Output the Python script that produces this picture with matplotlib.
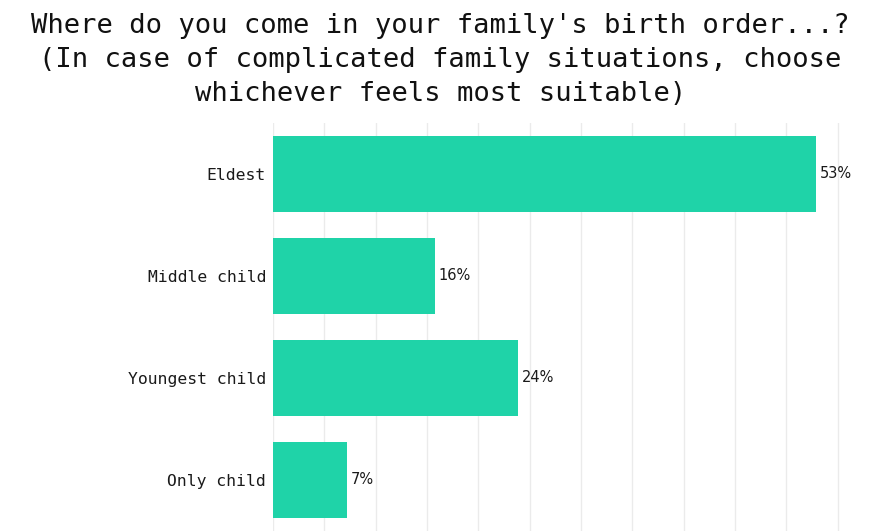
import matplotlib
matplotlib.use("Agg")
import matplotlib.pyplot as plt

categories = ["Eldest", "Middle child", "Youngest child", "Only child"]
values = [52.9, 15.8, 23.9, 7.2]
title = ("Where do you come in your family's birth order...?\n"
         "(In case of complicated family situations, choose\n"
         "whichever feels most suitable)")

fig = plt.figure(figsize=(8.81, 5.31), dpi=100)
ax = fig.add_axes([273/881, 0.0, (848-273)/881, (531-123)/531])

y = range(len(categories))
ax.barh(list(y), values, height=0.75, color="#1fd3a8", zorder=2)
ax.set_ylim(3.5, -0.5)
ax.set_xlim(0, 56)
ax.set_xticks([i * 5 for i in range(12)])
ax.set_xticklabels([])
ax.tick_params(axis="x", length=0)
ax.grid(axis="x", color="#ebebeb", linewidth=1, zorder=0)
ax.set_yticks(list(y))
ax.set_yticklabels(categories, family="DejaVu Sans Mono", fontsize=11.8, color="#1a1a1a")
ax.tick_params(axis="y", length=0, pad=5)
for s in ax.spines.values():
    s.set_visible(False)

for i, v in enumerate(values):
    ax.text(v + 0.35, i, f"{round(v)}%", va="center", ha="left",
            fontsize=10.5, color="#1a1a1a", family="DejaVu Sans")

fig.text(0.5, 1 - 60/531, title, ha="center", va="center", family="DejaVu Sans Mono",
         fontsize=19.5, linespacing=1.41, color="#111111")

fig.savefig("out.png", dpi=100, facecolor="white")
